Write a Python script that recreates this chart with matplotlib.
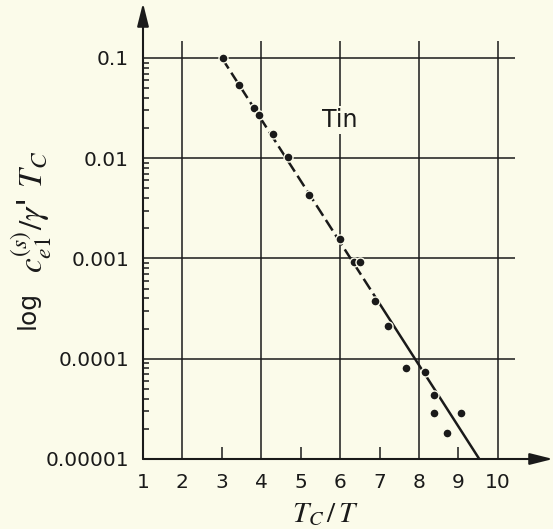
import numpy as np
import matplotlib.pyplot as plt
from matplotlib.ticker import FixedLocator, NullFormatter

# measured points for tin, T_C/T vs c_e1/gamma' T_C
tc_over_t = [3.02, 3.44, 3.82, 3.95, 4.29, 4.68, 5.22, 6.0, 6.35, 6.5,
             6.88, 7.22, 7.67, 8.15, 8.38, 8.38, 8.72, 9.06]
c_ratio = [0.1, 0.054, 0.032, 0.027, 0.0174, 0.0104, 0.0043, 0.00155, 0.00093, 0.00093,
           0.00038, 0.00021, 8.1e-5, 7.4e-5, 4.3e-5, 2.9e-5, 1.8e-5, 2.9e-5]

# straight-line fit: dashed upper part, solid lower part
fit_dash_x = [3.0, 7.0]
fit_dash_y = [0.1, 3.55e-4]
fit_solid_x = [7.0, 9.53]
fit_solid_y = [3.55e-4, 1e-5]

decades = [1e-5, 1e-4, 1e-3, 1e-2, 1e-1]
decade_labels = ["0.00001", "0.0001", "0.001", "0.01", "0.1"]
x_labeled = [1, 2, 4, 6, 8, 10]
x_short = [3, 5, 7, 9]
x_grid = [2, 4, 6, 8, 10]

bg = "#fbfbea"
ink = "#1a1a1a"

plt.rcParams["mathtext.fontset"] = "stix"

fig = plt.figure(figsize=(5.53, 5.29), dpi=100, facecolor=bg)
ax = fig.add_axes([143 / 553, 70 / 529, 410 / 553, 456 / 529], facecolor=bg)
ax.set_yscale("log")
ax.set_xlim(1, 11.4)
ax.set_ylim(1e-5, 10 ** -0.4514)
for s in ax.spines.values():
    s.set_visible(False)

# grid
ax.vlines(x_grid, 1e-5, 0.148, color=ink, lw=1.1)
ax.hlines(decades[1:], 1, 10.44, color=ink, lw=1.1)

# axes with arrow heads
arrow = dict(arrowstyle="-|>,head_length=1.0,head_width=0.25", color=ink,
             lw=1.5, mutation_scale=14, shrinkA=0, shrinkB=0)
ax.annotate("", xy=(1, 0), xytext=(0, 0), xycoords="axes fraction",
            arrowprops=arrow, annotation_clip=False)
ax.annotate("", xy=(0, 1), xytext=(0, 0), xycoords="axes fraction",
            arrowprops=arrow, annotation_clip=False)

# fit line and data
ax.plot(fit_dash_x, fit_dash_y, color=ink, lw=1.8, linestyle=(0, (5, 2)),
        solid_capstyle="butt")
ax.plot(fit_solid_x, fit_solid_y, color=ink, lw=1.8)
ax.plot(tc_over_t, c_ratio, "o", color=ink, ms=6.5, mec=bg, mew=1.0)

ax.text(6.0, 0.024, "Tin", fontsize=17, ha="center", va="center", color=ink,
        bbox=dict(facecolor=bg, edgecolor="none", pad=1.5))

# y ticks: labels at decades, short inward minor ticks
ax.yaxis.set_major_locator(FixedLocator(decades))
ax.set_yticklabels(decade_labels)
minor = [m * d for d in decades[:-1] for m in range(2, 10)]
ax.yaxis.set_minor_locator(FixedLocator(minor))
ax.yaxis.set_minor_formatter(NullFormatter())
ax.tick_params(axis="y", which="major", length=0, pad=10, labelsize=14.5, labelcolor=ink)
ax.tick_params(axis="y", which="minor", direction="in", length=4.5, width=1.1, color=ink)

# x ticks: short inward ticks at odd values, labels at every integer
ax.set_xticks(x_short, [str(v) for v in x_short])
ax.set_xticks(x_labeled, [str(v) for v in x_labeled], minor=True)
ax.tick_params(axis="x", which="major", direction="in", length=8.5, width=1.1,
               color=ink, pad=10, labelsize=14.5, labelcolor=ink)
ax.tick_params(axis="x", which="minor", length=0, pad=10, labelsize=14.5, labelcolor=ink)

fig.text(325 / 553, 1 / 529, r"$T_C\,/\,T$", fontsize=21, ha="center", va="bottom",
         color=ink)
# y label in two parts: plain "log" and the larger symbol expression
fig.text(28 / 553, 1 - 310 / 529, "log", fontsize=18,
         rotation=90, ha="center", va="center", color=ink)
fig.text(32 / 553, 1 - 212 / 529, r"$c_{e1}^{(s)}/\gamma$' $T_C$", fontsize=24,
         rotation=90, ha="center", va="center", color=ink)

fig.savefig("out.png", dpi=100, facecolor=bg)
